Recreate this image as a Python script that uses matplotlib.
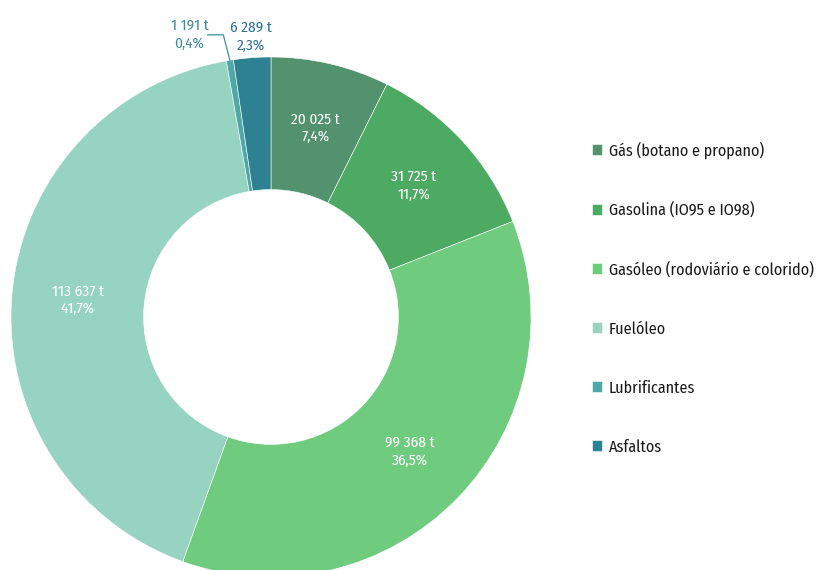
import numpy as np
import matplotlib.pyplot as plt

plt.rcParams['font.family'] = ['Fira Sans Condensed', 'DejaVu Sans']

categories = ["Gás (botano e propano)", "Gasolina (IO95 e IO98)",
              "Gasóleo (rodoviário e colorido)", "Fuelóleo",
              "Lubrificantes", "Asfaltos"]
tonnes = [20025, 31725, 99368, 113637, 1191, 6289]
value_labels = ["20 025 t", "31 725 t", "99 368 t", "113 637 t", "1 191 t", "6 289 t"]
pct_labels = ["7,4%", "11,7%", "36,5%", "41,7%", "0,4%", "2,3%"]
colors = ["#52926e", "#4caa63", "#6fcb7e", "#96d3c0", "#4fa8a8", "#2e8190"]

fig = plt.figure(figsize=(8.21, 5.70), dpi=100)
# centre at (271, 317) px, radius 260 px
ax = fig.add_axes([11 / 821, (253 - 260) / 570, 520 / 821, 520 / 570])

wedges, _ = ax.pie(tonnes, colors=colors, startangle=90, counterclock=False,
                   radius=1.0, wedgeprops=dict(width=0.51, edgecolor="white", linewidth=0.4))
ax.set_xlim(-1, 1)
ax.set_ylim(-1, 1)
ax.set_aspect("equal")
ax.axis("off")

for i, w in enumerate(wedges):
    mid = np.deg2rad((w.theta1 + w.theta2) / 2)
    text = value_labels[i] + "\n" + pct_labels[i]
    if tonnes[i] > 10000:
        r = 0.745
        ax.text(r * np.cos(mid), r * np.sin(mid), text, ha="center", va="center",
                color="white", fontsize=11, linespacing=1.3)
    elif i == 5:
        r = 1.085
        ax.text(r * np.cos(mid), r * np.sin(mid) - 0.005, text, ha="center", va="center",
                color="#2a6e9e", fontsize=11, linespacing=1.3)
    else:
        x0, y0 = np.cos(mid), np.sin(mid)
        ly = 1.085
        ax.plot([x0, x0 - 0.025, x0 - 0.085], [y0, ly, ly], color="#3e8e9b",
                lw=0.9, clip_on=False)
        ax.text(x0 - 0.155, ly, text, ha="center", va="center",
                color="#3e8e9b", fontsize=11, linespacing=1.3)

fig.legend(wedges, categories, loc="upper left", bbox_to_anchor=(577 / 821, 1 - 127 / 570),
           frameon=False, fontsize=11.6, labelspacing=2.67, handlelength=0.67,
           handleheight=0.67, handletextpad=0.4, labelcolor="#1a1a1a")

fig.savefig("out.png", dpi=100)
